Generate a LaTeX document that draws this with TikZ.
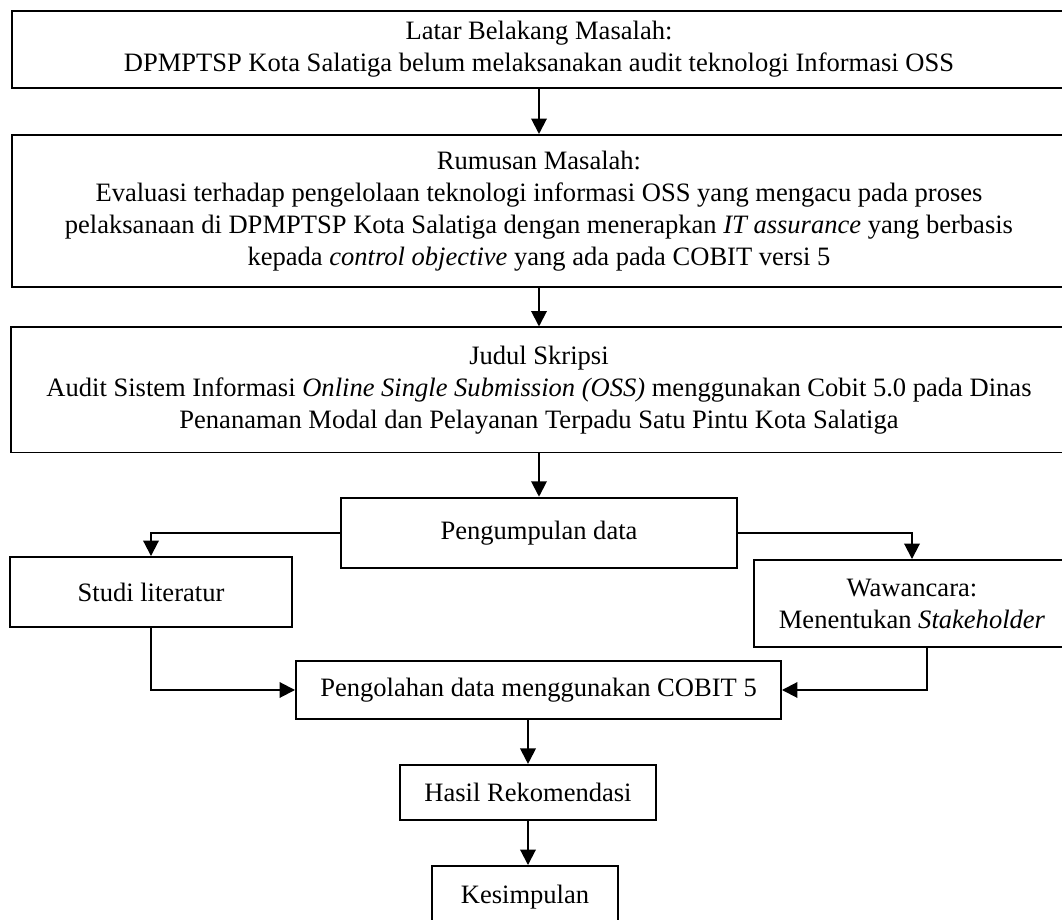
\documentclass[tikz,border=0pt]{standalone}
\usepackage{fontspec}
\setmainfont{Liberation Serif}
\usepackage{tikz}
\usetikzlibrary{arrows.meta}

\begin{document}
\begin{tikzpicture}[x=0.452pt,y=-0.452pt,
    box/.style={draw,line width=0.9pt,inner sep=0pt,align=center,
      font=\fontsize{12}{14.5}\selectfont},
    >={Triangle[length=7pt,width=7pt]}]
  \useasboundingbox (0,0) rectangle (1062,920);
  \node[box,minimum width=476.4pt,minimum height=34.8pt] (latar) at (539,49.3)
    {Latar Belakang Masalah:\\DPMPTSP Kota Salatiga belum melaksanakan audit teknologi Informasi OSS};
  \node[box,minimum width=476.4pt,minimum height=68.7pt] (rumusan) at (539,211)
    {Rumusan Masalah:\\Evaluasi terhadap pengelolaan teknologi informasi OSS yang mengacu pada proses\\
     pelaksanaan di DPMPTSP Kota Salatiga dengan menerapkan \textit{IT assurance} yang berbasis\\
     kepada \textit{control objective} yang ada pada COBIT versi 5};
  \node[box,minimum width=477pt,minimum height=56.5pt] (judul) at (539,390)
    {Judul Skripsi\\Audit Sistem Informasi \textit{Online Single Submission (OSS)} menggunakan Cobit 5.0 pada Dinas\\
     Penanaman Modal dan Pelayanan Terpadu Satu Pintu Kota Salatiga};
  \node[box,minimum width=179.4pt,minimum height=31.6pt] (kumpul) at (539,532.7) {Pengumpulan data};
  \node[box,minimum width=127.5pt,minimum height=31.6pt] (studi) at (151,592) {Studi literatur};
  \node[box,minimum width=142.8pt,minimum height=39.3pt] (wawancara) at (912,603.5)
    {Wawancara:\\Menentukan \textit{Stakeholder}};
  \node[box,minimum width=219.2pt,minimum height=26.2pt] (olah) at (538.5,690)
    {Pengolahan data menggunakan COBIT 5};
  \node[box,minimum width=115.3pt,minimum height=24.9pt] (hasil) at (528,792.5) {Hasil Rekomendasi};
  \node[box,minimum width=84.1pt,minimum height=28pt] (simpul) at (525,897) {Kesimpulan};

  \draw[->,line width=0.9pt] (latar) -- (rumusan);
  \draw[->,line width=0.9pt] (rumusan) -- (judul);
  \draw[->,line width=0.9pt] (judul) -- (kumpul);
  \draw[->,line width=0.9pt] (kumpul.west) -| (studi.north);
  \draw[->,line width=0.9pt] (kumpul.east) -| (wawancara.north);
  \draw[->,line width=0.9pt] (studi.south) |- (olah.west);
  \draw[->,line width=0.9pt] ([xshift=6.8pt]wawancara.south) |- (olah.east);
  \draw[->,line width=0.9pt] (hasil.north |- olah.south) -- (hasil.north);
  \draw[->,line width=0.9pt] (hasil.south) -- (hasil.south |- simpul.north);
\end{tikzpicture}
\end{document}
